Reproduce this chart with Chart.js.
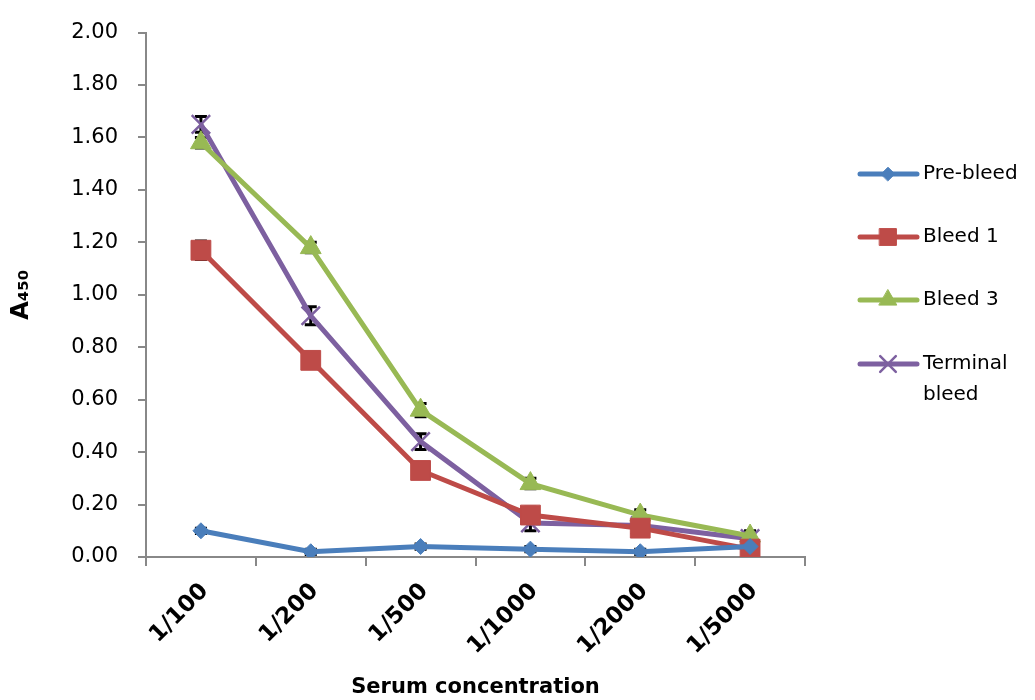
<!DOCTYPE html>
<html>
<head>
<meta charset="utf-8">
<script src="https://cdn.jsdelivr.net/npm/chart.js@4/dist/chart.umd.min.js"></script>
<style>
  html, body { margin: 0; padding: 0; background: #fff; }
  #wrap { width: 1035px; height: 700px; position: relative; }
</style>
</head>
<body>
<div id="wrap"><canvas id="elisaChart"></canvas></div>
<script>
// dilutions on the x axis
const dilutions = ["1/100", "1/200", "1/500", "1/1000", "1/2000", "1/5000"];

// A450 readings per bleed
const preBleed = [0.10, 0.02, 0.04, 0.03, 0.02, 0.04];
const bleed1 = [1.17, 0.75, 0.33, 0.16, 0.11, 0.03];
const bleed3 = [1.58, 1.18, 0.56, 0.28, 0.16, 0.08];
const terminalBleed = [1.65, 0.92, 0.44, 0.13, 0.12, 0.07];

// error bar half-heights
const preBleedErr = [0.01, 0.01, 0.01, 0.01, 0.01, 0.01];
const bleed1Err = [0.035, 0.03, 0.03, 0.03, 0.03, 0.01];
const bleed3Err = [0.02, 0.02, 0.025, 0.02, 0.02, 0.02];
const terminalErr = [0.03, 0.034, 0.03, 0.03, 0.02, 0.02];

const yTicks = [0, 0.2, 0.4, 0.6, 0.8, 1.0, 1.2, 1.4, 1.6, 1.8, 2.0];

const seriesNames = ["Pre-bleed", "Bleed 1", "Bleed 3", ["Terminal", "bleed"]];

document.addEventListener("DOMContentLoaded", function () {
  const font = "'DejaVu Sans', Verdana, sans-serif";

  function series(label, data, err, color, style, radius) {
    return {
      label: label,
      data: data,
      errors: err,
      borderColor: color,
      backgroundColor: color,
      borderWidth: 5,
      pointStyle: style,
      pointRadius: radius,
      pointHoverRadius: radius,
      pointBorderColor: color,
      pointBackgroundColor: color,
      pointBorderWidth: style === "crossRot" ? 2.5 : 1,
      tension: 0,
      fill: false,
    };
  }

  // black error bars, drawn under the markers
  const errorBars = {
    id: "errorBars",
    beforeDatasetsDraw(chart) {
      const ctx = chart.ctx;
      const x = chart.scales.x;
      const y = chart.scales.y;
      ctx.save();
      ctx.strokeStyle = "#000";
      ctx.lineWidth = 3;
      chart.data.datasets.forEach((ds) => {
        ds.data.forEach((v, i) => {
          const px = x.getPixelForValue(i);
          const top = y.getPixelForValue(v + ds.errors[i]);
          const bot = y.getPixelForValue(Math.max(0, v - ds.errors[i]));
          ctx.beginPath();
          ctx.moveTo(px, top);
          ctx.lineTo(px, bot);
          ctx.moveTo(px - 6, top);
          ctx.lineTo(px + 6, top);
          ctx.moveTo(px - 6, bot);
          ctx.lineTo(px + 6, bot);
          ctx.stroke();
        });
      });
      ctx.restore();
    },
  };

  // legend on the right: line sample with marker, label may wrap
  const sideLegend = {
    id: "sideLegend",
    afterDraw(chart) {
      const ctx = chart.ctx;
      const rows = [174, 237, 300, 364];
      ctx.save();
      chart.data.datasets.forEach((ds, i) => {
        const yy = rows[i];
        ctx.strokeStyle = ds.borderColor;
        ctx.lineWidth = 5;
        ctx.lineCap = "round";
        ctx.beginPath();
        ctx.moveTo(860, yy);
        ctx.lineTo(917, yy);
        ctx.stroke();
        ctx.fillStyle = ds.backgroundColor;
        ctx.strokeStyle = ds.borderColor;
        ctx.lineWidth = ds.pointBorderWidth;
        Chart.helpers.drawPoint(ctx, {
          pointStyle: ds.pointStyle,
          radius: ds.pointRadius * 0.85,
          rotation: 0,
          borderWidth: ds.pointBorderWidth,
        }, 888, yy);
        ctx.fillStyle = "#000";
        ctx.font = "20px " + font;
        ctx.textBaseline = "middle";
        ctx.textAlign = "left";
        const lines = Array.isArray(seriesNames[i]) ? seriesNames[i] : [seriesNames[i]];
        lines.forEach((t, k) => ctx.fillText(t, 923, yy + k * 31));
      });
      ctx.restore();
    },
  };

  new Chart(document.getElementById("elisaChart"), {
    type: "line",
    data: {
      labels: dilutions,
      datasets: [
        series("Pre-bleed", preBleed, preBleedErr, "#4a7ebb", "rectRot", 8),
        series("Bleed 1", bleed1, bleed1Err, "#be4b48", "rect", 14),
        series("Bleed 3", bleed3, bleed3Err, "#98b954", "triangle", 12),
        series("Terminal bleed", terminalBleed, terminalErr, "#7d60a0", "crossRot", 13),
      ],
    },
    options: {
      responsive: true,
      maintainAspectRatio: false,
      animation: false,
      layout: { padding: { top: 22, right: 230, left: 0, bottom: 0 } },
      plugins: {
        legend: { display: false },
        tooltip: { enabled: false },
      },
      scales: {
        x: {
          offset: true,
          afterFit: (scale) => { scale.height = 143; },
          grid: {
            offset: true,
            drawOnChartArea: false,
            tickLength: 9,
            color: "#888",
            lineWidth: 2,
          },
          border: { color: "#888", width: 2 },
          ticks: {
            minRotation: 45,
            maxRotation: 45,
            labelOffset: 4,
            padding: 12,
            color: "#000",
            font: { family: font, size: 23, weight: "bold" },
          },
          title: {
            display: true,
            text: "Serum concentration",
            color: "#000",
            padding: { top: 0, bottom: 0 },
            font: { family: font, size: 21, weight: "bold" },
          },
        },
        y: {
          min: 0,
          max: 2,
          afterFit: (scale) => { scale.width = 146; },
          afterBuildTicks: (scale) => {
            scale.ticks = yTicks.map((v) => ({ value: v }));
          },
          grid: {
            drawOnChartArea: false,
            tickLength: 8,
            color: "#888",
            lineWidth: 2,
          },
          border: { color: "#888", width: 2 },
          ticks: {
            padding: 20,
            color: "#000",
            font: { family: font, size: 21 },
            callback: (v) => Number(v).toFixed(2),
          },
          title: {
            display: true,
            text: "A₄₅₀",
            color: "#000",
            padding: { top: 7, bottom: 0 },
            font: { family: font, size: 24, weight: "bold" },
          },
        },
      },
    },
    plugins: [errorBars, sideLegend],
  });
});
</script>
</body>
</html>
